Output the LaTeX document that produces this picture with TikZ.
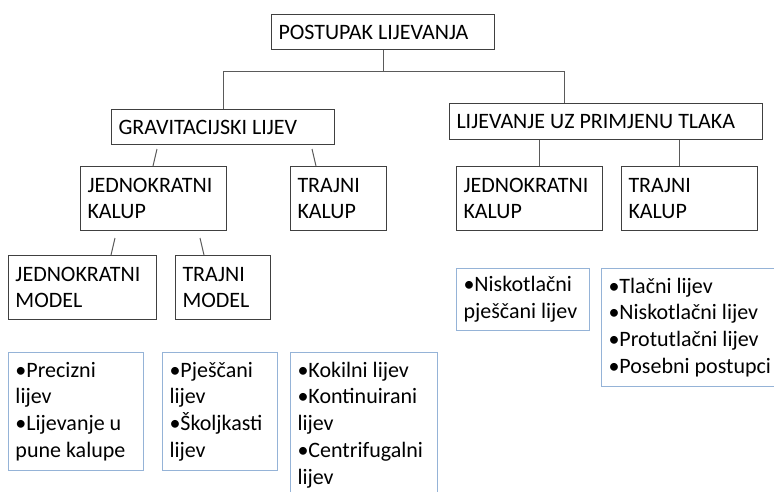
\documentclass[tikz,border=0pt]{standalone}
\usepackage{fontspec}
\setmainfont{Carlito}
\definecolor{boxline}{HTML}{404040}
\definecolor{connline}{HTML}{5A5A5A}
\definecolor{blueline}{HTML}{95B3D7}
\begin{document}
\begin{tikzpicture}[x=1pt,y=-1pt,
  base/.style={anchor=north west, align=flush left, inner xsep=7pt, inner ysep=2pt,
    font=\fontsize{22}{26.7}\selectfont, line width=1pt},
  blk/.style={base, draw=boxline},
  lst/.style={base, draw=blueline, inner ysep=9.5pt},
  conn/.style={draw=connline, line width=1pt}]
\useasboundingbox (0,0) rectangle (774,491);
\clip (0,0) rectangle (774,491);
\fill[white] (0,0) rectangle (774,491);
% level 0
\node[blk, text width=209pt, minimum height=35pt] (top) at (271,14) {POSTUPAK~LIJEVANJA};
% level 1
\node[blk, text width=209pt, minimum height=35pt] (grav) at (111,109) {GRAVITACIJSKI~LIJEV};
\node[blk, text width=299pt, minimum height=36pt] (tlak) at (449,103) {LIJEVANJE~UZ~PRIMJENU~TLAKA};
% level 2
\node[blk, text width=132pt, minimum height=64pt] (jk1) at (80,166) {JEDNOKRATNI\\KALUP};
\node[blk, text width=82pt, minimum height=64pt] (tk1) at (290,166) {TRAJNI\\KALUP};
\node[blk, text width=132pt, minimum height=64pt] (jk2) at (456,166) {JEDNOKRATNI\\KALUP};
\node[blk, text width=122pt, minimum height=64pt] (tk2) at (621,166) {TRAJNI\\KALUP};
% level 3
\node[blk, text width=134pt, minimum height=64pt] (jm) at (8,255) {JEDNOKRATNI\\MODEL};
\node[blk, text width=81pt, minimum height=64pt] (tm) at (175,255) {TRAJNI\\MODEL};
% lists
\node[lst, text width=121pt, minimum height=118pt] (b1) at (8,352) {•Precizni\\lijev\\•Lijevanje~u\\pune~kalupe};
\node[lst, text width=101pt, minimum height=118pt] (b2) at (162,352) {•Pješčani\\lijev\\•Školjkasti\\lijev};
\node[lst, text width=133pt] (b3) at (290,352) {•Kokilni~lijev\\•Kontinuirani\\lijev\\•Centrifugalni\\lijev};
\node[lst, text width=119pt, inner ysep=8pt] (b4) at (456,268) {•Niskotlačni\\pješčani~lijev};
\node[lst, text width=166pt] (b5) at (601,268) {•Tlačni~lijev\\•Niskotlačni~lijev\\•Protutlačni~lijev\\•Posebni~postupci};
% connectors
\draw[conn] (top.south) -- ++(0,22);
\draw[conn] (grav.north) -- ++(0,-38) -| ([xshift=115pt]tlak.north west);
\draw[conn] ([xshift=46pt,yshift=-4pt]grav.south west) -- ([xshift=73pt]jk1.north west);
\draw[conn] ([xshift=201pt,yshift=-4pt]grav.south west) -- ([xshift=26pt]tk1.north west);
\draw[conn] ([xshift=35pt,yshift=-7pt]jk1.south west) -- ([xshift=103pt]jm.north west);
\draw[conn] ([xshift=120pt,yshift=-7pt]jk1.south west) -- ([xshift=29pt]tm.north west);
\draw[conn] ([xshift=90pt]tlak.south west) -- ([xshift=83pt]jk2.north west);
\draw[conn] ([xshift=230pt]tlak.south west) -- ([xshift=58pt]tk2.north west);
\end{tikzpicture}
\end{document}
